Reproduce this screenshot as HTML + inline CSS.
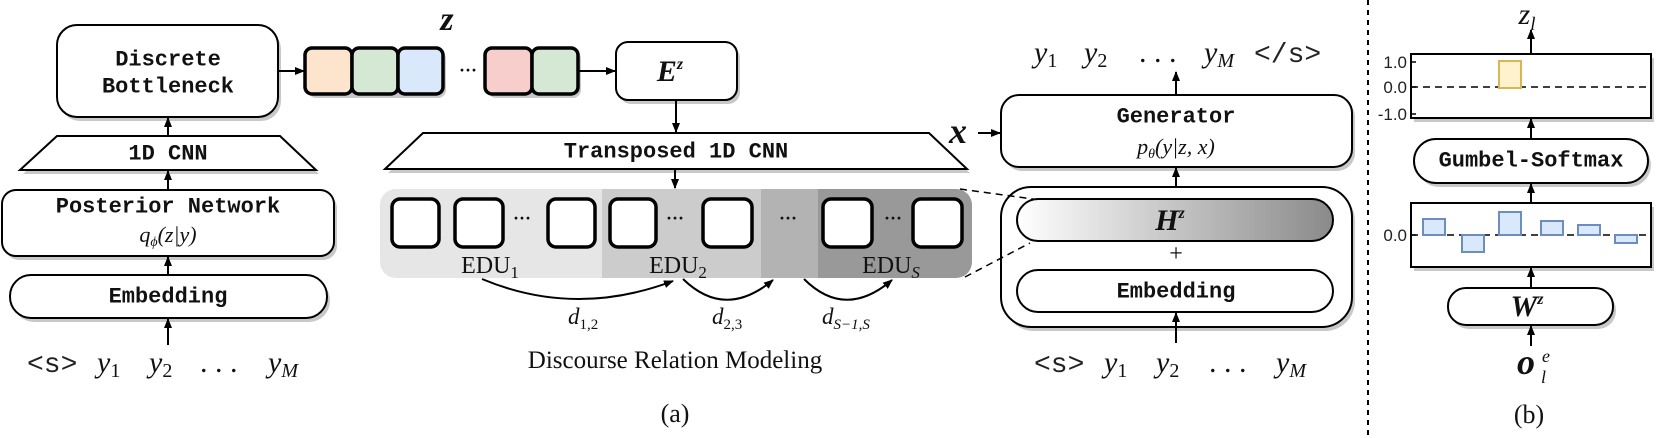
<!DOCTYPE html>
<html><head><meta charset="utf-8"><style>
html,body{margin:0;padding:0;background:#fff;}
svg{display:block;}
.m{font-family:"Liberation Mono",monospace;font-weight:bold;font-size:22px;fill:#111;}
.s{font-family:"Liberation Serif",serif;fill:#111;}
.i{font-family:"Liberation Serif",serif;font-style:italic;fill:#111;}
.bi{font-family:"Liberation Serif",serif;font-style:italic;font-weight:bold;fill:#111;}
.tt{font-family:"Liberation Mono",monospace;fill:#222;}
</style></head><body>
<svg width="1660" height="438" viewBox="0 0 1660 438" xmlns="http://www.w3.org/2000/svg">
<defs>
<marker id="a" markerWidth="10" markerHeight="8" refX="9" refY="4" orient="auto" markerUnits="userSpaceOnUse">
<path d="M0,0 L10,4 L0,8 z" fill="#000"/></marker>
<linearGradient id="g" x1="0" x2="1" y1="0" y2="0"><stop offset="0" stop-color="#fff"/><stop offset="1" stop-color="#8a8a8a"/></linearGradient>
</defs>
<g stroke="#000" stroke-width="2" fill="#fff">
<g fill="#c8c8c8" stroke="none">
<rect x="60" y="29" width="221" height="92" rx="20"/>
<polygon points="60,140 283,140 319,174 23,174"/>
<rect x="5" y="194" width="332" height="66" rx="14"/>
<rect x="13" y="279" width="317" height="43" rx="21"/>
<rect x="308" y="51" width="138" height="47" rx="8"/>
<rect x="488" y="51" width="93" height="47" rx="8"/>
<rect x="619" y="46" width="121" height="58" rx="12"/>
<polygon points="426,137 932,137 970,173 388,173"/>
<rect x="1004" y="99" width="351" height="72" rx="18"/>
<rect x="1004" y="191" width="351" height="140" rx="30"/>
<rect x="1414" y="58" width="240" height="64"/>
<rect x="1417" y="143" width="234" height="44" rx="22"/>
<rect x="1414" y="207" width="240" height="64"/>
<rect x="1451" y="292" width="165" height="37" rx="18"/>
</g>
<rect x="57" y="25" width="221" height="92" rx="20"/>
<polygon points="57,136 280,136 316,170 20,170"/>
<rect x="2" y="190" width="332" height="66" rx="14"/>
<rect x="10" y="275" width="317" height="43" rx="21"/>
<g stroke-width="3.5">
<rect x="305" y="48" width="47" height="46" rx="7" fill="#fde5cd"/>
<rect x="352" y="48" width="46" height="46" rx="7" fill="#d5e8d4"/>
<rect x="398" y="48" width="45" height="46" rx="7" fill="#dae8fc"/>
<rect x="485" y="48" width="47" height="46" rx="7" fill="#f8cecc"/>
<rect x="532" y="48" width="46" height="46" rx="7" fill="#d5e8d4"/>
</g>
<rect x="616" y="42" width="121" height="58" rx="12"/>
<polygon points="423,133 929,133 967,169 385,169"/>
<rect x="1001" y="95" width="351" height="72" rx="18"/>
<rect x="1001" y="187" width="351" height="140" rx="30"/>
<rect x="1017" y="199" width="316" height="42" rx="21" fill="url(#g)"/>
<rect x="1017" y="270" width="316" height="42" rx="21"/>
<rect x="1411" y="54" width="240" height="64"/>
<rect x="1414" y="139" width="234" height="44" rx="22"/>
<rect x="1411" y="203" width="240" height="64"/>
<rect x="1448" y="288" width="165" height="37" rx="18"/>
</g>
<path d="M396,189 H602 V278 H396 a16,16 0 0 1 -16,-16 V205 a16,16 0 0 1 16,-16z" fill="#e6e6e6"/>
<rect x="602" y="189" width="159" height="89" fill="#cccccc"/>
<rect x="761" y="189" width="57" height="89" fill="#b3b3b3"/>
<path d="M818,189 H956 a16,16 0 0 1 16,16 V262 a16,16 0 0 1 -16,16 H818z" fill="#999"/>
<g stroke="#000" stroke-width="3.5" fill="#fff">
<rect x="392" y="199" width="47" height="48" rx="8"/>
<rect x="455" y="199" width="48" height="48" rx="8"/>
<rect x="548" y="199" width="47" height="48" rx="8"/>
<rect x="610" y="199" width="46" height="48" rx="8"/>
<rect x="703" y="199" width="49" height="48" rx="8"/>
<rect x="823" y="199" width="49" height="48" rx="8"/>
<rect x="913" y="199" width="49" height="48" rx="8"/>
</g>
<g class="s" font-size="18" font-weight="bold" text-anchor="middle">
<text x="522" y="224">···</text><text x="675" y="224">···</text><text x="788" y="224">···</text><text x="893" y="224">···</text>
<text x="468" y="76">···</text>
</g>
<g class="s" font-size="24" text-anchor="middle">
<text x="490" y="273">EDU<tspan font-size="17" dy="5">1</tspan></text>
<text x="678" y="273">EDU<tspan font-size="17" dy="5">2</tspan></text>
<text x="891" y="273">EDU<tspan font-size="17" dy="5" font-style="italic">S</tspan></text>
</g>
<g stroke="#000" stroke-width="2" fill="none">
<path d="M482,279 Q575,318 673,281" marker-end="url(#a)"/>
<path d="M683,279 Q725,320 773,280" marker-end="url(#a)"/>
<path d="M804,279 Q845,320 892,280" marker-end="url(#a)"/>
<line x1="168" y1="136" x2="168" y2="118" marker-end="url(#a)"/>
<line x1="168" y1="190" x2="168" y2="171" marker-end="url(#a)"/>
<line x1="168" y1="275" x2="168" y2="257" marker-end="url(#a)"/>
<line x1="168" y1="345" x2="168" y2="319" marker-end="url(#a)"/>
<line x1="278" y1="71" x2="304" y2="71" marker-end="url(#a)"/>
<line x1="578" y1="71" x2="615" y2="71" marker-end="url(#a)"/>
<line x1="676" y1="100" x2="676" y2="132" marker-end="url(#a)"/>
<line x1="675" y1="169" x2="675" y2="188" marker-end="url(#a)"/>
<line x1="978" y1="133" x2="1000" y2="133" marker-end="url(#a)"/>
<line x1="1176" y1="95" x2="1176" y2="72" marker-end="url(#a)"/>
<line x1="1176" y1="187" x2="1176" y2="168" marker-end="url(#a)"/>
<line x1="1176" y1="343" x2="1176" y2="313" marker-end="url(#a)"/>
<line x1="1531" y1="54" x2="1531" y2="30" marker-end="url(#a)"/>
<line x1="1531" y1="139" x2="1531" y2="119" marker-end="url(#a)"/>
<line x1="1531" y1="203" x2="1531" y2="184" marker-end="url(#a)"/>
<line x1="1531" y1="288" x2="1531" y2="268" marker-end="url(#a)"/>
<line x1="1531" y1="346" x2="1531" y2="326" marker-end="url(#a)"/>
<g stroke-dasharray="7,5" stroke-width="1.5">
<line x1="960" y1="189" x2="1033" y2="199"/>
<line x1="965" y1="277" x2="1030" y2="243"/>
<line x1="1411" y1="87" x2="1651" y2="87"/>
<line x1="1411" y1="235" x2="1651" y2="235"/>
</g>
<line x1="1368" y1="0" x2="1368" y2="438" stroke-dasharray="5,5" stroke-width="2"/>
</g>
<rect x="1499" y="61" width="22" height="27" fill="#fff2cc" stroke="#d6b656" stroke-width="2"/>
<g fill="#dae8fc" stroke="#6c8ebf" stroke-width="2">
<rect x="1423" y="219" width="22" height="16"/>
<rect x="1462" y="235" width="22" height="17"/>
<rect x="1499" y="212" width="22" height="23"/>
<rect x="1541" y="221" width="22" height="14"/>
<rect x="1578" y="225" width="22" height="10"/>
<rect x="1615" y="235" width="22" height="8"/>
</g>
<g stroke="#000" stroke-width="1.5">
<line x1="1411" y1="62" x2="1416" y2="62"/><line x1="1411" y1="87" x2="1416" y2="87"/><line x1="1411" y1="114" x2="1416" y2="114"/><line x1="1411" y1="235" x2="1416" y2="235"/>
</g>
<g font-family="'Liberation Sans',sans-serif" font-size="17" fill="#222" text-anchor="end">
<text x="1407" y="68">1.0</text><text x="1407" y="93">0.0</text><text x="1407" y="120">-1.0</text><text x="1407" y="241">0.0</text>
</g>
<g class="m" text-anchor="middle" dominant-baseline="central">
<text x="168" y="60">Discrete</text>
<text x="168" y="87">Bottleneck</text>
<text x="168" y="154">1D CNN</text>
<text x="168" y="207">Posterior Network</text>
<text x="168" y="297">Embedding</text>
<text x="676" y="152">Transposed 1D CNN</text>
<text x="1176" y="117">Generator</text>
<text x="1176" y="292">Embedding</text>
<text x="1531" y="161">Gumbel-Softmax</text>
</g>
<text class="i" x="168" y="242" font-size="22" text-anchor="middle">q<tspan font-size="14" dy="4">ϕ</tspan><tspan dy="-4">(z|y)</tspan></text>
<text class="i" x="1176" y="154" font-size="22" text-anchor="middle">p<tspan font-size="14" dy="4">θ</tspan><tspan dy="-4">(y|z, x)</tspan></text>
<text class="bi" x="447" y="30" font-size="34" text-anchor="middle">z</text>
<text class="bi" x="670" y="81" font-size="30" text-anchor="middle">E<tspan font-size="16" dy="-12">z</tspan></text>
<text class="bi" x="1170" y="230" font-size="30" text-anchor="middle">H<tspan font-size="16" dy="-12">z</tspan></text>
<text class="s" x="1176" y="261" font-size="24" text-anchor="middle">+</text>
<text class="bi" x="958" y="143" font-size="36" text-anchor="middle">x</text>
<text class="bi" x="1527" y="316" font-size="30" text-anchor="middle">W<tspan font-size="16" dy="-12">z</tspan></text>
<text class="i" x="1527" y="24" font-size="30" text-anchor="middle">z<tspan font-size="19" dy="6">l</tspan></text>
<text class="bi" x="1526" y="374" font-size="36" text-anchor="middle">o</text>
<text class="i" x="1542" y="362" font-size="18">e</text>
<text class="i" x="1541" y="383" font-size="18">l</text>
<g class="i" font-size="23">
<text x="568" y="324">d<tspan font-size="15" dy="5" font-style="normal">1,2</tspan></text>
<text x="712" y="324">d<tspan font-size="15" dy="5" font-style="normal">2,3</tspan></text>
<text x="822" y="324">d<tspan font-size="15" dy="5">S−1,S</tspan></text>
</g>
<text class="s" x="675" y="368" font-size="25" text-anchor="middle">Discourse Relation Modeling</text>
<text class="s" x="675" y="422" font-size="26" text-anchor="middle">(a)</text>
<text class="s" x="1529" y="423" font-size="26" text-anchor="middle">(b)</text>
<g font-size="30">
<text class="tt" x="27" y="372" font-size="28">&lt;s&gt;</text>
<text class="i" x="97" y="372">y<tspan font-size="20" dy="5" font-style="normal">1</tspan></text>
<text class="i" x="149" y="372">y<tspan font-size="20" dy="5" font-style="normal">2</tspan></text>
<text class="s" x="200" y="372">. . .</text>
<text class="i" x="268" y="372">y<tspan font-size="20" dy="5">M</tspan></text>
</g>
<g font-size="30">
<text class="i" x="1034" y="62">y<tspan font-size="20" dy="5" font-style="normal">1</tspan></text>
<text class="i" x="1084" y="62">y<tspan font-size="20" dy="5" font-style="normal">2</tspan></text>
<text class="s" x="1139" y="62">. . .</text>
<text class="i" x="1204" y="62">y<tspan font-size="20" dy="5">M</tspan></text>
<text class="tt" x="1254" y="62" font-size="28">&lt;/s&gt;</text>
</g>
<g font-size="30">
<text class="tt" x="1034" y="372" font-size="28">&lt;s&gt;</text>
<text class="i" x="1104" y="372">y<tspan font-size="20" dy="5" font-style="normal">1</tspan></text>
<text class="i" x="1156" y="372">y<tspan font-size="20" dy="5" font-style="normal">2</tspan></text>
<text class="s" x="1209" y="372">. . .</text>
<text class="i" x="1276" y="372">y<tspan font-size="20" dy="5">M</tspan></text>
</g>
</svg>
</body></html>
